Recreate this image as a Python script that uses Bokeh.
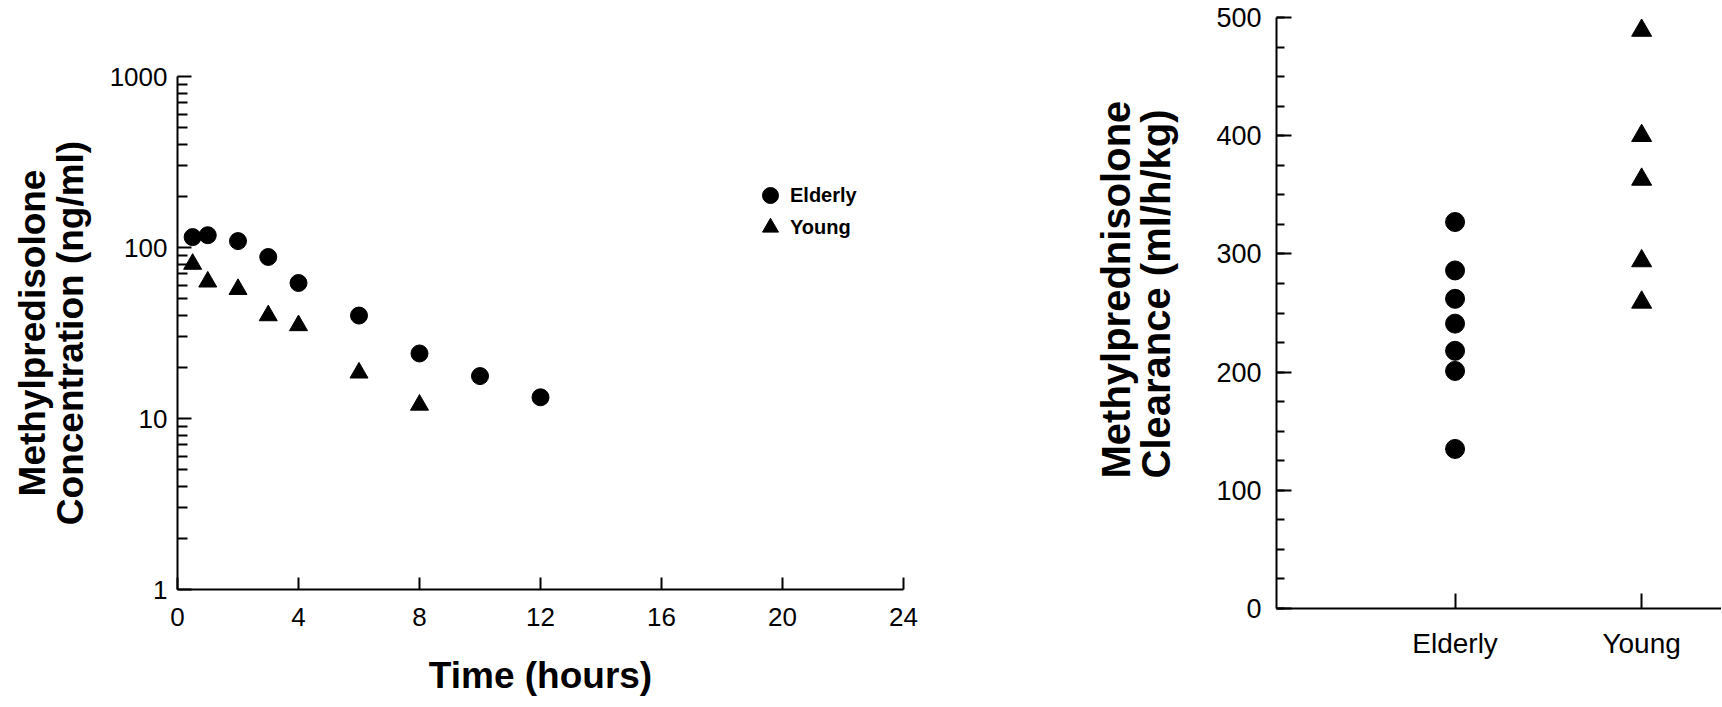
from bokeh.plotting import figure
from bokeh.models import (FixedTicker, Title, Legend, LegendItem, Range1d, PrintfTickFormatter)
from bokeh.embed import file_html
from bokeh.resources import INLINE

# ---- data ----
time_elderly = [0.5, 1, 2, 3, 4, 6, 8, 10, 12]
conc_elderly = [115, 118, 109, 88, 62, 40, 24, 17.7, 13.3]
time_young = [0.5, 1, 2, 3, 4, 6, 8]
conc_young = [80, 63, 57, 40, 35, 18.5, 12]

groups = ["Elderly", "Young"]
clear_elderly = [327, 286, 262, 241, 218, 201, 135]
clear_young = [489, 400, 363, 294, 259]

x_ticks = [0, 4, 8, 12, 16, 20, 24]
y_log_ticks = [1, 10, 100, 1000]
y_lin_ticks = [0, 100, 200, 300, 400, 500]

FONT = "Liberation Sans"
H = 706


def style_axis(ax, label_size):
    ax.axis_line_width = 2
    ax.axis_line_color = "black"
    ax.major_tick_line_width = 2
    ax.minor_tick_line_width = 2
    ax.major_tick_line_color = "black"
    ax.minor_tick_line_color = "black"
    ax.major_tick_out = 0
    ax.minor_tick_out = 0
    ax.major_label_text_font = FONT
    ax.major_label_text_font_size = label_size
    ax.major_label_text_color = "black"
    ax.axis_label_text_font = FONT
    ax.axis_label_text_font_style = "bold"
    ax.axis_label_text_color = "black"


# ---- left panel: concentration vs time ----
p1 = figure(width=1040, height=H, x_range=Range1d(0, 24), y_range=Range1d(1, 1000),
            y_axis_type="log", output_backend="svg", toolbar_location=None,
            min_border_left=177, min_border_right=137, min_border_top=76, min_border_bottom=117)
p1.outline_line_color = None
p1.grid.visible = False

xa = p1.xaxis[0]
style_axis(xa, "26px")
xa.ticker = FixedTicker(ticks=x_ticks, minor_ticks=[])
xa.major_tick_in = 12
xa.major_label_standoff = 18
xa.axis_label = "Time (hours)"
xa.axis_label_text_font_size = "37px"
xa.axis_label_standoff = 26

ya = p1.yaxis[0]
style_axis(ya, "26px")
ya.ticker = FixedTicker(ticks=y_log_ticks,
                        minor_ticks=[m * 10 ** k for k in range(3) for m in range(2, 10)])
ya.formatter = PrintfTickFormatter(format="%d")
ya.major_tick_in = 14
ya.minor_tick_in = 10
ya.major_label_standoff = 10
ya.axis_label = "Methylpredisolone\nConcentration (ng/ml)"
ya.axis_label_text_font_size = "37px"
ya.axis_label_text_line_height = 0.93
ya.axis_label_standoff = 16

r_e = p1.scatter(time_elderly, conc_elderly, marker="circle", size=17, color="black")
r_y = p1.scatter(time_young, conc_young, marker="triangle", size=18, color="black")


def one_item_legend(label, renderer, loc):
    return Legend(items=[LegendItem(label=label, renderers=[renderer])],
                  location=loc, orientation="vertical",
                  glyph_width=40, glyph_height=40, label_height=40, spacing=0,
                  label_standoff=-3, padding=0, margin=0,
                  border_line_color=None, background_fill_alpha=0,
                  label_text_font=FONT, label_text_font_style="bold",
                  label_text_font_size="20px", label_text_color="black")


p1.add_layout(one_item_legend(groups[0], r_e, (573, 374)))
p1.add_layout(one_item_legend(groups[1], r_y, (573, 342)))

# ---- right panel: clearance by group ----
p2 = figure(width=681, height=H, x_range=Range1d(0.043, 2.428), y_range=Range1d(0, 500),
            output_backend="svg", toolbar_location=None,
            min_border_left=236, min_border_right=0, min_border_top=17, min_border_bottom=98)
p2.outline_line_color = None
p2.grid.visible = False

xb = p2.xaxis[0]
style_axis(xb, "28px")
xb.ticker = FixedTicker(ticks=[i + 1 for i in range(len(groups))], minor_ticks=[])
xb.major_label_overrides = {i + 1: g for i, g in enumerate(groups)}
xb.major_tick_in = 15
xb.major_label_standoff = 19

yb = p2.yaxis[0]
style_axis(yb, "27px")
yb.ticker = FixedTicker(ticks=y_lin_ticks, minor_ticks=list(range(0, 501, 25)))
yb.major_tick_in = 15
yb.minor_tick_in = 8
yb.major_label_standoff = 15

p2.scatter([1] * len(clear_elderly), clear_elderly, marker="circle", size=19, color="black")
p2.scatter([2] * len(clear_young), clear_young, marker="triangle", size=20, color="black")

p2.add_layout(Title(text="Methylprednisolone\nClearance (ml/h/kg)", align="left", offset=130,
                    text_font=FONT, text_font_style="bold", text_font_size="40px",
                    text_line_height=0.9, text_color="black", standoff=71), "left")

TEMPLATE = """
{% block preamble %}
<style>
  html, body { margin: 0 !important; padding: 0 !important; }
  body { display: flex !important; flex-direction: row !important; align-items: flex-start !important; }
</style>
{% endblock %}
{% block postamble %}
<style>
  html, body { margin: 0 !important; padding: 0 !important; }
  body { display: flex !important; flex-direction: row !important; align-items: flex-start !important; }
</style>
{% endblock %}
"""

open("out.html", "w").write(file_html([p1, p2], INLINE, template=TEMPLATE))
